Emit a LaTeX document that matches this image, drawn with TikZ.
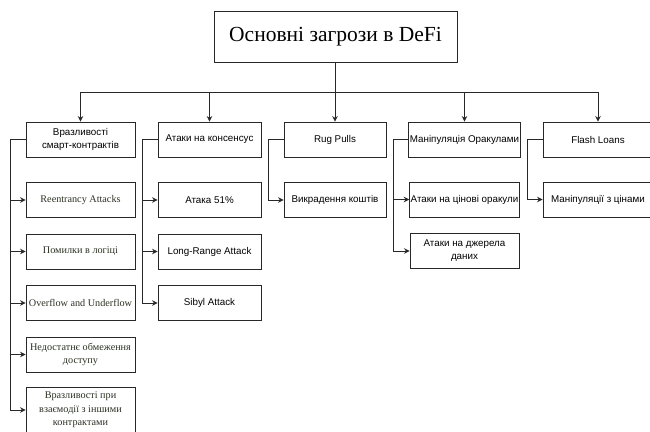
\documentclass[tikz,border=0pt]{standalone}
\usepackage{fontspec}
\setmainfont{Liberation Serif}
\setsansfont{Liberation Sans}
\usepackage{tikz}
\usetikzlibrary{arrows.meta,positioning}

\definecolor{linegray}{RGB}{40,40,40}
\definecolor{serifgray}{RGB}{44,50,36}

\begin{document}
\begin{tikzpicture}[x=1pt,y=-1pt,>={Stealth[length=5.5pt,width=5.5pt]},node distance=51.5pt,on grid,
  box/.style={draw=linegray,line width=0.9pt,fill=white,align=center,inner sep=1pt},
  topic/.style={box,minimum width=105pt,minimum height=35pt,font=\sffamily\fontsize{9.8}{13}\selectfont},
  leaf/.style={topic},
  serifleaf/.style={box,minimum width=109pt,minimum height=35pt,text=serifgray,font=\rmfamily\fontsize{10.2}{13.5}\selectfont}]
  \useasboundingbox[fill=white] (0,0) rectangle (650,431);

  \node[box,minimum width=243pt,minimum height=51pt,font=\rmfamily\fontsize{21.5}{24}\selectfont]
                              (root) at (335.5,36.5)   {Основні загрози в DeFi};
  % top level
  \node[topic,minimum width=109pt] (smart)  at (80.5,139.5)   {Вразливості\\смарт-контрактів};
  \node[topic,minimum width=103pt] (cons)   at (209.5,139.5)  {Атаки на консенсус};
  \node[topic,minimum width=102pt] (rug)    at (335,139.5)    {Rug Pulls};
  \node[topic,minimum width=109pt] (oracle) at (464.5,139.5)  {Маніпуляція Оракулами};
  \node[topic,minimum width=110pt] (flash)  at (598,139.5)    {Flash Loans};

  % smart contracts
  \node[serifleaf]  (reent)  [below=60.5pt of smart]  {Reentrancy Attacks};
  \node[serifleaf]  (logic)  [below=of reent]         {Помилки в логіці};
  \node[serifleaf]  (over)   [below=of logic]         {Overflow and Underflow};
  \node[serifleaf]  (access) [below=of over]          {Недостатнє обмеження\\доступу};
  \node[serifleaf,minimum height=45pt] (inter) [below=55.5pt of access] {Вразливості при\\взаємодії з іншими\\контрактами};
  % consensus
  \node[leaf,minimum width=103pt] (a51)   [below=60.5pt of cons] {Атака 51\%};
  \node[leaf,minimum width=103pt] (range) [below=of a51]         {Long-Range Attack};
  \node[leaf,minimum width=103pt] (sybil) [below=of range]       {Sibyl Attack};
  % rug pulls
  \node[leaf,minimum width=102pt] (steal) [below=60.5pt of rug]  {Викрадення коштів};
  % oracles
  \node[leaf,minimum width=109pt] (price) [below=60pt of oracle] {Атаки на цінові оракули};
  \node[leaf,minimum width=109pt] (feed)  [below=of price]       {Атаки на джерела\\даних};
  % flash loans
  \node[leaf,minimum width=110pt] (manip) [below=60pt of flash]  {Маніпуляції з цінами};

\tikzset{link/.style={->,draw=linegray,line width=0.9pt}}
  \foreach \g in {smart,cons,rug,oracle,flash}
    \draw[link] (root.south) -- ++(0,30) -| (\g.north);
  \foreach \p/\c in {smart/reent,smart/logic,smart/over,smart/access,smart/inter,
                     cons/a51,cons/range,cons/sybil,rug/steal,
                     oracle/price,oracle/feed,flash/manip}
    \draw[link] (\p.west) -- ++(-15.5,0) |- (\c.west);
\end{tikzpicture}
\end{document}
